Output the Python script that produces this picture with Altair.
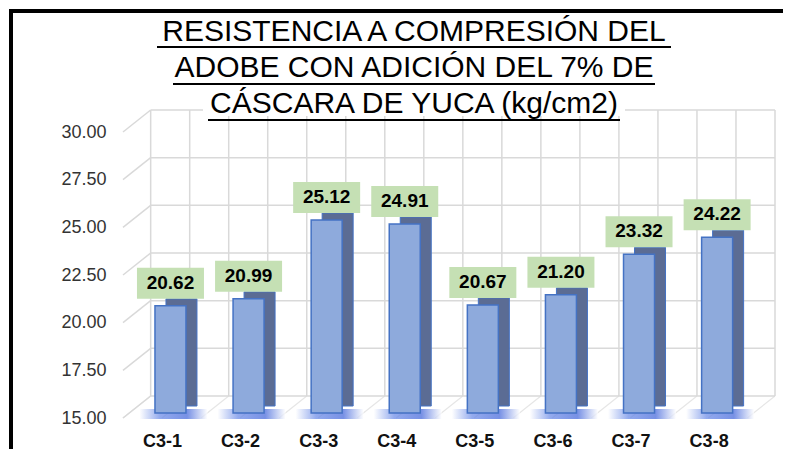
import altair as alt
import pandas as pd

# ---- data ----
categories = ["C3-1", "C3-2", "C3-3", "C3-4", "C3-5", "C3-6", "C3-7", "C3-8"]
values = [20.62, 20.99, 25.12, 24.91, 20.67, 21.20, 23.32, 24.22]
y_ticks = [15.0, 17.5, 20.0, 22.5, 25.0, 27.5, 30.0]
wall_columns = list(range(17))
title_lines = [
    "RESISTENCIA A COMPRESIÓN  DEL",
    "ADOBE  CON ADICIÓN  DEL 7% DE",
    "CÁSCARA  DE YUCA  (kg/cm2)",
]

df = pd.DataFrame({"cat": categories, "val": values})
tick_df = pd.DataFrame({"v": y_ticks})
wall_df = pd.DataFrame({"k": wall_columns})
one = pd.DataFrame({"_": [0]})

FONT = "Liberation Sans"
GRID = "#d9d9d9"

yscale = alt.Scale(domain=[15, 30], nice=False, zero=False)
kscale = alt.Scale(domain=[-0.709, 16], nice=False, zero=False)
xscale = alt.Scale(paddingInner=0.603, paddingOuter=0.476, align=0.43)

y_axis = alt.Axis(
    values=y_ticks, format=".2f", domain=False, ticks=False, grid=False,
    labelPadding=17, labelOffset=5, labelFontSize=18, labelFont=FONT,
    labelColor="#333333", title=None,
)
x_axis = alt.Axis(
    labelAngle=0, labelFontWeight="bold", labelFontSize=18, labelFont=FONT,
    labelColor="#111111", labelOffset=-8, labelPadding=19, ticks=False,
    domain=False, grid=False, title=None,
)

# ---- frame ----
def hline(x0, x1, y, w):
    return alt.Chart(one).mark_rule(color="#000000", strokeWidth=w).encode(
        x=alt.value(x0), x2=alt.value(x1), y=alt.value(y)
    )

frame_top_a = hline(-114, 300, -116, 4)
frame_top_b = hline(300, 660, -116, 4)
frame_left = alt.Chart(one).mark_rule(color="#000000", strokeWidth=4).encode(
    x=alt.value(-112), y=alt.value(-118), y2=alt.value(330)
)

# ---- 3D-like back wall grid ----
hlines = alt.Chart(tick_df).mark_rule(
    color=GRID, strokeWidth=1.5, yOffset=-17, y2Offset=-17
).encode(
    x=alt.XDatum(0, scale=kscale, axis=None),
    x2=alt.datum(16),
    y=alt.Y("v:Q", scale=yscale, axis=y_axis),
    y2=alt.Y2("v"),
)
slants = alt.Chart(tick_df).mark_rule(
    color=GRID, strokeWidth=1.5, yOffset=5, y2Offset=-17
).encode(
    x=alt.XDatum(-0.709, scale=kscale, axis=None),
    x2=alt.datum(0),
    y=alt.Y("v:Q", scale=yscale, axis=y_axis),
    y2=alt.Y2("v"),
)
vlines = alt.Chart(wall_df).mark_rule(
    color=GRID, strokeWidth=1.5, yOffset=-17, y2Offset=-17
).encode(
    x=alt.X("k:Q", scale=kscale, axis=None),
    y=alt.YDatum(30, scale=yscale, axis=y_axis),
    y2=alt.datum(15),
)
floor = alt.Chart(wall_df).mark_rule(
    color="#e6e6e6", strokeWidth=1.2, xOffset=-27.7, yOffset=5, y2Offset=-17
).encode(
    x=alt.X("k:Q", scale=kscale, axis=None),
    x2=alt.X2("k"),
    y=alt.YDatum(15, scale=yscale, axis=y_axis),
    y2=alt.datum(15),
)
grid = alt.layer(floor, hlines, slants, vlines)

# ---- bars ----
base = alt.Chart(df).encode(
    x=alt.X("cat:N", sort=categories, scale=xscale, axis=x_axis),
)
shadow_grad = alt.Gradient(
    gradient="linear", x1=0, y1=0, x2=1, y2=0,
    stops=[
        alt.GradientStop(color="#ffffff", offset=0),
        alt.GradientStop(color="#6f8ee8", offset=0.3),
        alt.GradientStop(color="#4a6cdc", offset=0.7),
        alt.GradientStop(color="#ffffff", offset=1),
    ],
)
shadow = base.mark_bar(width=68, xOffset=3, yOffset=6, y2Offset=-4,
                       color=shadow_grad, opacity=0.75).encode(
    y=alt.YDatum(15, scale=yscale, axis=y_axis),
    y2=alt.datum(15),
)
side = base.mark_bar(width=31, xOffset=11, yOffset=-7, y2Offset=-7,
                     color="#5b6c94", stroke="#4472c4", strokeWidth=1).encode(
    y=alt.Y("val:Q", scale=yscale, axis=y_axis),
    y2=alt.datum(15),
)
front = base.mark_bar(width=31, color="#8eaadc", stroke="#4472c4",
                      strokeWidth=1.5).encode(
    y=alt.Y("val:Q", scale=yscale, axis=y_axis),
    y2=alt.datum(15),
)
box = base.mark_bar(width=67, yOffset=-38, y2Offset=-7,
                    color="#c5e0b4").encode(
    y=alt.Y("val:Q", scale=yscale, axis=y_axis),
    y2=alt.Y2("val"),
)
labels = base.mark_text(dy=-23, fontSize=19, fontWeight="bold", font=FONT,
                        color="#000000", baseline="middle").encode(
    y=alt.Y("val:Q", scale=yscale, axis=y_axis),
    text=alt.Text("val:Q", format=".2f"),
)
main = alt.layer(shadow, side, front, box, labels)

# ---- title (white box, text, underlines) ----
title_bg = alt.Chart(one).mark_rect(color="white").encode(
    x=alt.value(80), x2=alt.value(502), y=alt.value(-30), y2=alt.value(-11)
)
title = alt.Chart(one).mark_text(
    align="center", baseline="alphabetic", fontSize=30, font=FONT,
    lineHeight=36, color="#000000"
).encode(x=alt.value(291), y=alt.value(-86), text=alt.value(title_lines))

u1 = hline(34, 548, -80, 2)
u2 = hline(50, 532, -43, 2)
u3 = hline(85, 497, -7, 2)

chart = alt.layer(
    grid, main, title_bg, title, u1, u2, u3,
    frame_top_a, frame_top_b, frame_left
).resolve_scale(x="independent").properties(
    width=652, height=286,
    padding={"left": 115, "top": 119, "right": 23, "bottom": 36},
    autosize="none",
    background="white",
).configure_view(stroke=None)

chart.save("out.html", embed_options={"renderer": "svg", "actions": False})
